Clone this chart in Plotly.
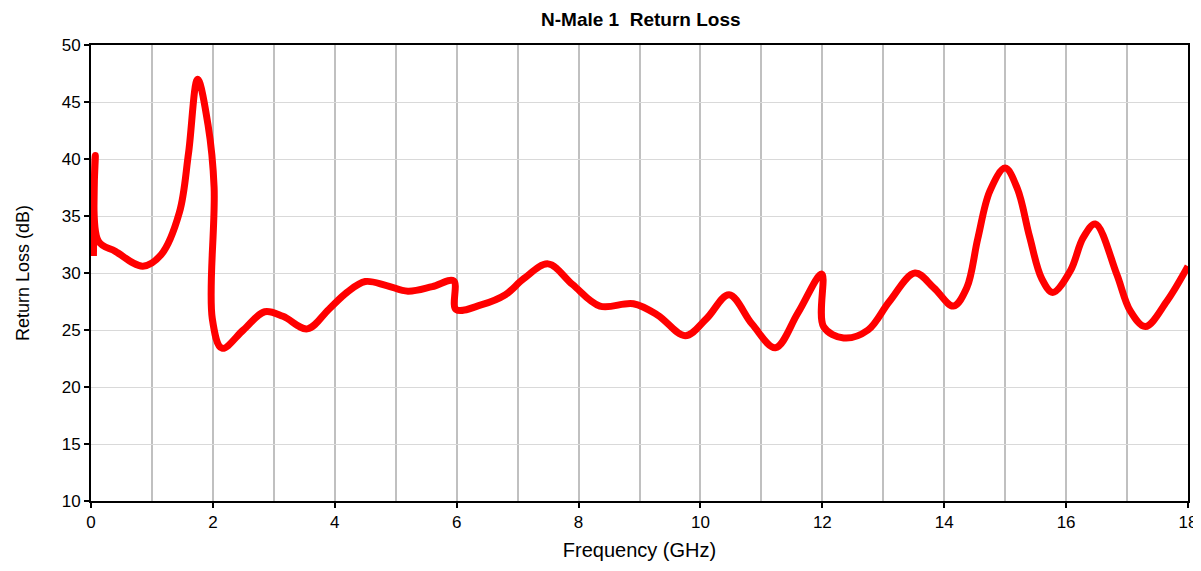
import plotly.graph_objects as go

freq_ghz = [0.04, 0.07, 0.12, 0.4, 0.85, 1.15, 1.45, 1.6, 1.75, 1.92, 2.02, 1.99, 2.15,
            2.5, 2.85, 3.15, 3.55, 3.9, 4.2, 4.5, 4.85, 5.2, 5.6, 5.95, 5.99, 6.4,
            6.8, 7.1, 7.5, 7.9, 8.35, 8.9, 9.3, 9.75, 10.1, 10.47, 10.85, 11.23,
            11.6, 11.99, 12.02, 12.35, 12.75, 13.1, 13.52, 13.83, 14.15, 14.37,
            14.55, 14.75, 15.0, 15.2, 15.4, 15.6, 15.78, 16.07, 16.28, 16.48,
            16.83, 17.05, 17.3, 17.65, 18.0]
return_loss_db = [31.5, 40.3, 32.8, 31.9, 30.6, 31.6, 35.3, 40.5, 47.0, 43.0, 37.5, 26.0, 23.4,
                  25.0, 26.6, 26.2, 25.1, 26.8, 28.3, 29.25, 28.9, 28.4, 28.8, 29.3, 26.8, 27.2,
                  28.1, 29.5, 30.8, 29.0, 27.1, 27.3, 26.3, 24.5, 26.0, 28.1, 25.5, 23.45,
                  26.5, 29.9, 25.3, 24.3, 25.0, 27.5, 30.0, 28.7, 27.1, 28.7,
                  33.0, 37.2, 39.2, 37.4, 33.2, 29.5, 28.3, 30.2, 33.1, 34.3,
                  29.9, 26.7, 25.3, 27.5, 30.6]

x_ticks = [0, 2, 4, 6, 8, 10, 12, 14, 16, 18]
y_ticks = [10, 15, 20, 25, 30, 35, 40, 45, 50]

fig = go.Figure()
fig.add_trace(go.Scatter(
    x=freq_ghz, y=return_loss_db, mode="lines",
    line=dict(color="#FF0000", width=7, shape="spline", smoothing=1.0),
    showlegend=False, hoverinfo="x+y",
))

font_family = "Liberation Sans, Arial, sans-serif"
fig.update_layout(
    width=1210, height=555,
    margin=dict(l=83, r=30, t=37, b=62, autoexpand=False),
    paper_bgcolor="white", plot_bgcolor="white",
    title=dict(text="<b>N-Male 1  Return Loss</b>", x=0.523, xanchor="center",
               y=11 / 555, yref="container", yanchor="middle",
               font=dict(family=font_family, size=19, color="black")),
    font=dict(family=font_family, size=17, color="black"),
    xaxis=dict(
        range=[0, 18], tickvals=x_ticks, ticktext=[str(v) for v in x_ticks],
        showgrid=True, gridcolor="#c0c0c0", gridwidth=2,
        minor=dict(dtick=1, tick0=0, showgrid=True, gridcolor="#c0c0c0", gridwidth=2),
        showline=True, linecolor="black", linewidth=2, mirror=True,
        ticks="outside", ticklen=5, tickcolor="black", tickwidth=1.5,
        zeroline=False, automargin=False,
        title=dict(text="Frequency (GHz)", font=dict(size=20), standoff=12),
        tickfont=dict(size=17),
    ),
    yaxis=dict(
        range=[10, 50], tickvals=y_ticks,
        showgrid=True, gridcolor="#d9d9d9", gridwidth=1,
        showline=True, linecolor="black", linewidth=2, mirror=True,
        ticks="outside", ticklen=5, tickcolor="black", tickwidth=1.5,
        zeroline=False, automargin=False,
        title=dict(text="Return Loss (dB)", font=dict(size=18), standoff=27),
        tickfont=dict(size=17),
    ),
)
fig.update_layout(title_y=1 - 11 / 555)

fig.write_html("out.html")
